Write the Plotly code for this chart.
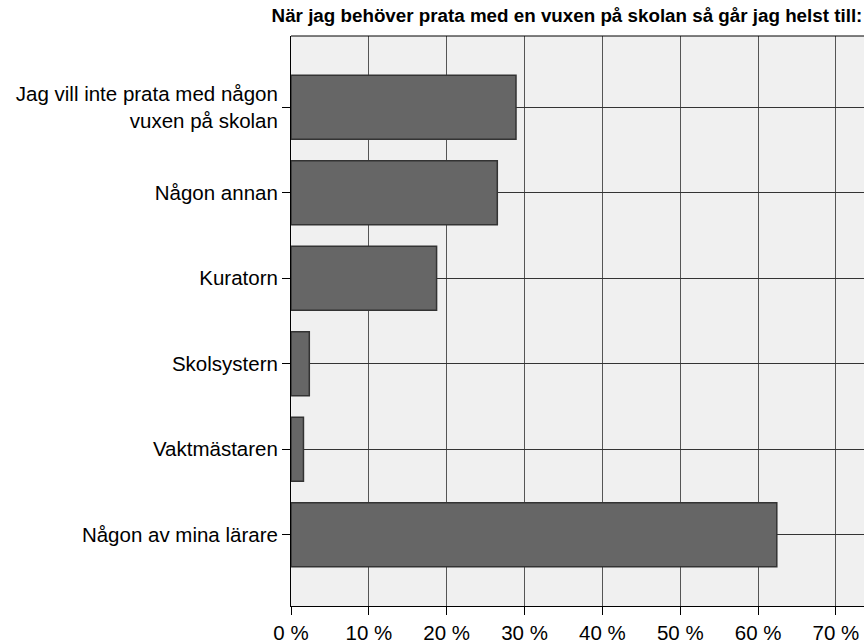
import plotly.graph_objects as go

categories = [
    'Jag vill inte prata med någon<br>vuxen på skolan',
    'Någon annan',
    'Kuratorn',
    'Skolsystern',
    'Vaktmästaren',
    'Någon av mina lärare',
]
percent = [28.9, 26.5, 18.7, 2.35, 1.6, 62.4]
x_ticks = [0, 10, 20, 30, 40, 50, 60, 70]
x_tick_labels = [f'{v} %' for v in x_ticks]

fig = go.Figure(
    go.Bar(
        x=percent,
        y=categories,
        orientation='h',
        width=0.75,
        marker=dict(color='#666666', line=dict(color='#333333', width=1.5)),
        showlegend=False,
    )
)

fig.update_layout(
    width=864,
    height=644,
    margin=dict(l=291, r=0, t=36, b=32),
    paper_bgcolor='white',
    plot_bgcolor='#f0f0f0',
    font=dict(family='Liberation Sans, Arial', size=20.5, color='black'),
    title=dict(
        text='<b>När jag behöver prata med en vuxen på skolan så går jag helst till:</b>',
        x=567 / 864, xanchor='center', xref='container',
        y=1 - 15 / 644, yanchor='middle', yref='container',
        font=dict(size=18.8),
    ),
)

fig.update_xaxes(
    range=[0, 73.6],
    tickvals=x_ticks,
    ticktext=x_tick_labels,
    showgrid=True,
    gridcolor='#555555',
    gridwidth=1,
    zeroline=False,
    showline=True,
    linecolor='black',
    linewidth=1,
    ticks='outside',
    ticklen=8,
    tickcolor='black',
)

fig.update_yaxes(
    categoryorder='array',
    categoryarray=categories,
    range=[5.833, -0.833],
    showgrid=True,
    gridcolor='#333333',
    gridwidth=1,
    showline=True,
    linecolor='black',
    linewidth=1,
    ticks='outside',
    ticklen=8,
    tickcolor='black',
)

# top border of the plot area
fig.add_shape(type='line', xref='paper', yref='paper', x0=0, x1=1, y0=1, y1=1,
              line=dict(color='black', width=1))

# drop the default page margin so the figure fills the window exactly
fig.write_html(
    "out.html",
    config={'displayModeBar': False},
    post_script="document.body.style.margin='0';",
)
